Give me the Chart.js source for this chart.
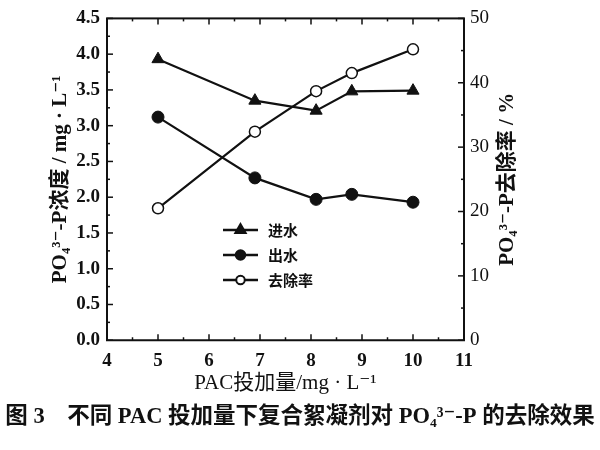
<!DOCTYPE html>
<html>
<head>
<meta charset="utf-8">
<script src="https://cdn.jsdelivr.net/npm/chart.js@4"></script>
<style>
  html, body { margin: 0; padding: 0; background: #fff; }
  #wrap { width: 600px; height: 450px; position: relative; }
</style>
</head>
<body>
<div id="wrap"><canvas id="pacChart"></canvas></div>
<script>
const doses = [5, 6.9, 8.1, 8.8, 10];
const influent = [3.93, 3.35, 3.21, 3.48, 3.49];   // 进水, mg/L
const effluent = [3.12, 2.27, 1.97, 2.04, 1.93];   // 出水, mg/L
const removal = [20.5, 32.4, 38.7, 41.5, 45.2];    // 去除率, %
const seriesNames = ["进水", "出水", "去除率"];

const SERIF = '"Liberation Serif", "DejaVu Serif", "Noto Sans CJK SC", serif';
const toPoints = (ys) => doses.map((x, i) => ({ x: x, y: ys[i] }));

// inward tick marks, frame, custom legend and right-hand title
const decorations = {
  id: "decorations",
  afterDraw(chart) {
    const { ctx, chartArea: a, scales } = chart;
    ctx.save();
    ctx.strokeStyle = "#111";
    ctx.lineWidth = 2;
    ctx.strokeRect(a.left, a.top, a.right - a.left, a.bottom - a.top);

    ctx.lineWidth = 1.5;
    const tickLine = (x1, y1, x2, y2) => {
      ctx.beginPath();
      ctx.moveTo(x1, y1);
      ctx.lineTo(x2, y2);
      ctx.stroke();
    };
    // x axis: major 1, minor 0.5 (bottom and top)
    for (let v = 4; v <= 11.001; v += 0.5) {
      const px = scales.x.getPixelForValue(v);
      const len = Math.abs(v - Math.round(v)) < 0.01 ? 6 : 3;
      tickLine(px, a.bottom, px, a.bottom - len);
      tickLine(px, a.top, px, a.top + len);
    }
    // left axis: major 0.5, minor 0.25
    for (let v = 0; v <= 4.501; v += 0.25) {
      const py = scales.y.getPixelForValue(v);
      const len = Math.abs(v * 2 - Math.round(v * 2)) < 0.01 ? 6 : 3;
      tickLine(a.left, py, a.left + len, py);
    }
    // right axis: major 10, minor 5
    for (let v = 0; v <= 50.01; v += 5) {
      const py = scales.y1.getPixelForValue(v);
      const len = v % 10 === 0 ? 6 : 3;
      tickLine(a.right, py, a.right - len, py);
    }

    // legend inside plot
    const legendX = 223, legendY = [230, 255, 280];
    chart.data.datasets.forEach((ds, i) => {
      const y = legendY[i];
      ctx.strokeStyle = "#111";
      ctx.lineWidth = 2.5;
      tickLine(legendX, y, legendX + 35, y);
      Chart.helpers.drawPoint(ctx, {
        pointStyle: ds.pointStyle,
        radius: ds.pointRadius - 1.5,
        borderWidth: ds.pointBorderWidth
      }, legendX + 17.5, y);
      ctx.fillStyle = ds.pointBackgroundColor;
      ctx.strokeStyle = "#111";
      ctx.lineWidth = ds.pointBorderWidth;
      ctx.fill();
      ctx.stroke();
      ctx.fillStyle = "#111";
      ctx.font = 'bold 15px "Noto Sans CJK SC", sans-serif';
      ctx.textBaseline = "middle";
      ctx.textAlign = "left";
      ctx.fillText(ds.label, legendX + 45, y);
    });

    // right axis title, reads bottom to top like the left one
    ctx.translate(508, (a.top + a.bottom) / 2);
    ctx.rotate(-Math.PI / 2);
    ctx.font = "bold 21px " + SERIF;
    ctx.textAlign = "center";
    ctx.textBaseline = "middle";
    ctx.fillStyle = "#111";
    ctx.fillText("PO₄³⁻-P去除率 / %", 0, 0);
    ctx.restore();
  }
};

const canvas = document.getElementById("pacChart");
new Chart(canvas.getContext("2d"), {
  type: "line",
  data: {
    datasets: [
      {
        label: seriesNames[0],
        data: toPoints(influent),
        yAxisID: "y",
        borderColor: "#111",
        borderWidth: 2.2,
        pointStyle: "triangle",
        pointRadius: 7,
        pointBackgroundColor: "#111",
        pointBorderColor: "#111",
        pointBorderWidth: 1
      },
      {
        label: seriesNames[1],
        data: toPoints(effluent),
        yAxisID: "y",
        borderColor: "#111",
        borderWidth: 2.2,
        pointStyle: "circle",
        pointRadius: 6,
        pointBackgroundColor: "#111",
        pointBorderColor: "#111",
        pointBorderWidth: 1
      },
      {
        label: seriesNames[2],
        data: toPoints(removal),
        yAxisID: "y1",
        borderColor: "#111",
        borderWidth: 2.2,
        pointStyle: "circle",
        pointRadius: 5.5,
        pointBackgroundColor: "#fff",
        pointBorderColor: "#111",
        pointBorderWidth: 1.5
      }
    ]
  },
  options: {
    responsive: true,
    maintainAspectRatio: false,
    animation: false,
    layout: { padding: { top: 14, left: 0, right: 0, bottom: 0 } },
    scales: {
      x: {
        type: "linear",
        min: 4,
        max: 11,
        grid: { display: false, drawTicks: false },
        border: { display: false },
        ticks: {
          stepSize: 1,
          padding: 9,
          color: "#111",
          font: { family: SERIF, size: 19, weight: "bold" }
        },
        title: {
          display: true,
          text: "PAC投加量/mg · L⁻¹",
          color: "#111",
          padding: { top: 0, bottom: 4 },
          font: { family: SERIF, size: 21 }
        },
        afterFit: (scale) => { scale.height = 60; }
      },
      y: {
        position: "left",
        min: 0,
        max: 4.5,
        grid: { display: false, drawTicks: false },
        border: { display: false },
        ticks: {
          stepSize: 0.5,
          padding: 7,
          color: "#111",
          font: { family: SERIF, size: 19, weight: "bold" },
          callback: (v) => v.toFixed(1)
        },
        title: {
          display: true,
          text: "PO₄³⁻-P浓度 / mg · L⁻¹",
          color: "#111",
          padding: { top: 48, bottom: 0 },
          font: { family: SERIF, size: 21, weight: "bold" }
        },
        afterFit: (scale) => { scale.width = 107; }
      },
      y1: {
        position: "right",
        min: 0,
        max: 50,
        grid: { display: false, drawTicks: false, drawOnChartArea: false },
        border: { display: false },
        ticks: {
          stepSize: 10,
          padding: 6,
          color: "#111",
          font: { family: SERIF, size: 19 }
        },
        afterFit: (scale) => { scale.width = 136; }
      }
    },
    plugins: {
      legend: { display: false },
      tooltip: { enabled: false },
      title: {
        display: true,
        position: "bottom",
        text: "图 3　不同 PAC 投加量下复合絮凝剂对 PO₄³⁻-P 的去除效果",
        color: "#111",
        padding: { top: 5, bottom: 20 },
        font: { family: SERIF, size: 22.5, weight: "bold", lineHeight: 1.1 }
      }
    }
  },
  plugins: [decorations]
});
</script>
</body>
</html>
